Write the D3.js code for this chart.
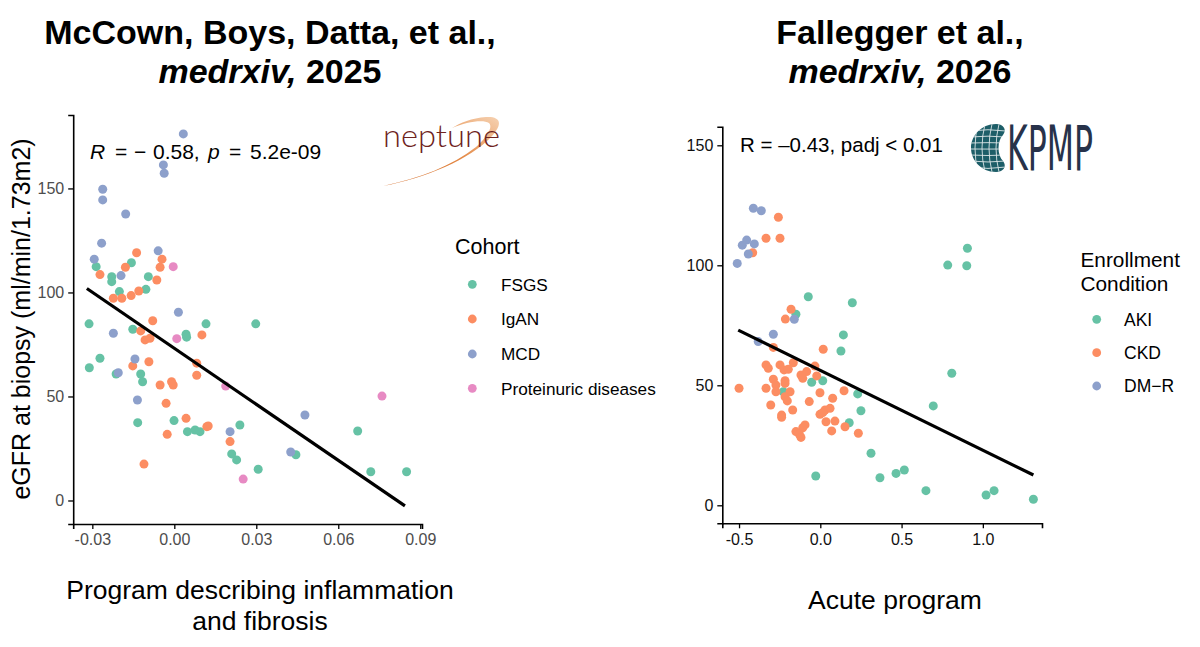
<!DOCTYPE html>
<html><head><meta charset="utf-8">
<script src="https://cdn.jsdelivr.net/npm/d3@7"></script>
<style>body{margin:0;background:#fff}svg{display:block;font-family:"Liberation Sans",Arial,sans-serif}</style>
</head><body><svg id="c" width="1200" height="647"></svg>
<script>
// ---------- Left panel data (NEPTUNE) ----------
const cohorts = ["FSGS","IgAN","MCD","Proteinuric diseases"];
const cohortColors = ["#66c2a5","#fc8d62","#8da0cb","#e78ac3"];
const fsgsX = [-0.0286,-0.0157,-0.0229,-0.0229,-0.0095,-0.0201,-0.0104,-0.0312,-0.0152,0.0043,0.0045,0.0116,0.0298,-0.0272,-0.0311,-0.0213,-0.0123,-0.0116,-0.0134,-0.0001,0.0048,0.0076,0.0094,0.024,0.021,0.0228,0.0307,0.0671,0.0445,0.0719,0.085];
const fsgsY = [112.4,114.3,107.6,105.2,107.6,100.4,101.5,84.9,82.3,79.9,78.5,84.9,84.9,68.4,63.8,60.8,60.8,57.1,37.4,38.4,33.1,33.9,33.1,36.3,22.4,19.5,15.0,33.4,22.0,13.8,13.8];
const iganX = [-0.0138,-0.0045,-0.0179,-0.0052,-0.0272,-0.0064,-0.013,-0.0158,-0.0223,-0.0192,-0.0123,-0.0079,-0.0107,-0.0089,0.0101,-0.0093,-0.0152,-0.0052,-0.001,-0.0004,0.0082,0.0082,-0.003,0.0043,-0.0026,0.0119,0.0124,0.0204,-0.0111];
const iganY = [119.1,116,112.1,112.1,108.6,106,100.7,98.5,97.2,97.2,81.5,86.4,77.2,78.0,79.6,66.7,64.7,55.5,57.1,55.5,66.0,60.2,46.7,39.5,31.8,35.5,35.8,28.3,17.5];
const mcdX = [0.0033,-0.004,-0.0037,-0.0262,-0.0262,-0.0178,-0.0266,-0.0293,-0.0059,-0.0195,0.0015,-0.0223,-0.0144,-0.0205,-0.0135,0.0204,0.0478,0.0426];
const mcdY = [176.2,161.3,157.3,149.6,144.5,137.7,123.7,116,120,108.1,90.5,80.4,68,61.4,48.3,33.1,41.1,23.3];
const protX = [-0.0004,0.0009,0.0188,0.0252,0.076];
const protY = [112.4,77.8,55.0,10.3,50.2];
const leftFitX = [-0.032, 0.0844];
const leftFitY = [101.9, -2.6];
const leftXTicks = [-0.03,0,0.03,0.06,0.09];
const leftXTickLabels = ["-0.03","0.00","0.03","0.06","0.09"];
const leftYTicks = [0,50,100,150];

// ---------- Right panel data (KPMP) ----------
const conditions = ["AKI","CKD","DM\u2212R"];
const conditionColors = ["#66c2a5","#fc8d62","#8da0cb"];
const akiX = [-0.074,0.197,-0.15,0.142,0.127,-0.228,-0.053,0.015,0.178,0.23,0.25,0.312,-0.028,0.367,0.905,0.784,0.901,0.809,0.695,0.466,0.517,0.65,1.02,1.069,1.311];
const akiY = [86.9,84.4,79.6,71.0,64.3,47.3,51.25,51.9,34.4,46.4,39.4,21.7,12.2,11.5,107.1,100.1,99.8,55.0,41.4,13.3,14.7,6.1,4.3,6.1,2.5];
const ckdX = [-0.258,-0.334,-0.248,-0.416,-0.18,-0.215,0.018,-0.289,-0.5,-0.334,-0.334,-0.32,-0.248,-0.223,-0.197,-0.166,-0.289,-0.217,-0.217,-0.273,-0.273,-0.186,-0.217,-0.203,-0.305,-0.238,-0.238,-0.17,-0.119,-0.108,-0.084,-0.033,-0.022,-0.002,-0.068,0.076,-0.002,0.029,0.06,0.015,0.035,0.09,0.07,-0.094,-0.108,-0.15,-0.129,-0.119,0.146,0.152,0.234];
const ckdY = [120.0,111.25,111.25,105.25,81.7,77.6,65.0,65.8,48.75,48.75,58.5,57.1,58.5,56.4,56.7,59.4,52.5,51.9,50.8,50.1,47.3,47.3,45.25,43.5,41.8,37.6,36.7,39.7,54.3,52.9,55.7,58.0,53.9,46.9,43.2,44.6,37.9,39.7,40.4,38.6,34.8,35.1,31.0,33.5,32.3,30.7,29.6,28.3,47.75,32.75,30.0];
const dmrX = [-0.412,-0.363,-0.453,-0.48,-0.406,-0.443,-0.511,-0.16,-0.289,-0.382];
const dmrY = [123.75,122.75,110.5,108.4,108.9,104.7,100.8,77.5,71.25,68.2];
const rightFitX = [-0.505, 1.311];
const rightFitY = [73.0, 12.6];
const rightXTicks = [-0.5,0,0.5,1.0];
const rightXTickLabels = ["-0.5","0.0","0.5","1.0"];
const rightYTicks = [0,50,100,150];

const svg = d3.select("#c");

function zip(xs, ys, g){ return xs.map((x,i)=>({x, y: ys[i], g})); }

function panel(cfg){
  const x = d3.scaleLinear().domain(cfg.xDomain).range(cfg.xRange);
  const y = d3.scaleLinear().domain(cfg.yDomain).range(cfg.yRange);
  const g = svg.append("g");
  const xa = g.append("g").attr("transform",`translate(0,${cfg.yRange[0]})`)
    .call(d3.axisBottom(x).tickValues(cfg.xTicks).tickFormat((d,i)=>cfg.xTickLabels[i]).tickSizeOuter(0).tickSize(5).tickPadding(5));
  const ya = g.append("g").attr("transform",`translate(${cfg.xRange[0]},0)`)
    .call(d3.axisLeft(y).tickValues(cfg.yTicks).tickSizeOuter(0).tickSize(5).tickPadding(4));
  [xa,ya].forEach(a=>{
    a.selectAll("path.domain").attr("stroke","#000").attr("stroke-width",1.6);
    a.selectAll(".tick line").attr("stroke","#000").attr("stroke-width",1.3);
    a.selectAll(".tick text").attr("fill",cfg.tickColor).style("font-size","16px").style("font-family","Liberation Sans, Arial, sans-serif");
  });
  g.selectAll("circle.pt").data(cfg.points).join("circle").attr("class","pt")
    .attr("cx",d=>x(d.x)).attr("cy",d=>y(d.y)).attr("r",4.5)
    .attr("fill",d=>cfg.colors[d.g]);
  const line = d3.line().x(d=>x(d[0])).y(d=>y(d[1]));
  g.append("path").attr("d",line(cfg.fitX.map((v,i)=>[v,cfg.fitY[i]])))
    .attr("stroke","#000").attr("stroke-width",3.2).attr("fill","none");
  return g;
}

const leftPts = [].concat(zip(fsgsX,fsgsY,0),zip(iganX,iganY,1),zip(mcdX,mcdY,2),zip(protX,protY,3));
panel({xDomain:[-0.037,0.09064], xRange:[73.2,422], yDomain:[-11.3,185.3], yRange:[524,115],
  xTicks:leftXTicks, xTickLabels:leftXTickLabels, yTicks:leftYTicks, tickColor:"#4d4d4d",
  points:leftPts, colors:cohortColors, fitX:leftFitX, fitY:leftFitY});

const rightPts = [].concat(zip(akiX,akiY,0),zip(ckdX,ckdY,1),zip(dmrX,dmrY,2));
panel({xDomain:[-0.603,1.364], xRange:[722.3,1042], yDomain:[-7.5,157.75], yRange:[523.3,126.7],
  xTicks:rightXTicks, xTickLabels:rightXTickLabels, yTicks:rightYTicks, tickColor:"#111",
  points:rightPts, colors:conditionColors, fitX:rightFitX, fitY:rightFitY});

// ---------- Titles ----------
function title(cx, line1, year){
  svg.append("text").attr("x",cx).attr("y",44).attr("text-anchor","middle")
    .style("font-size","34px").style("font-weight","bold").text(line1);
  const t = svg.append("text").attr("x",cx).attr("y",83).attr("text-anchor","middle")
    .style("font-size","34px").style("font-weight","bold");
  t.append("tspan").style("font-style","italic").text("medrxiv,");
  t.append("tspan").text(" " + year);
}
title(270, "McCown, Boys, Datta, et al.,", "2025");
title(900, "Fallegger et al.,", "2026");

// ---------- Annotations ----------
const a1 = svg.append("text").attr("y",159).style("font-size","21px");
a1.append("tspan").attr("x",90).style("font-style","italic").text("R");
a1.append("tspan").attr("x",115).text("=");
a1.append("tspan").attr("x",134).text("\u2212");
a1.append("tspan").attr("x",153).text("0.58,");
a1.append("tspan").attr("x",208).style("font-style","italic").text("p");
a1.append("tspan").attr("x",229).text("=");
a1.append("tspan").attr("x",250).text("5.2e-09");

svg.append("text").attr("x",740).attr("y",152).style("font-size","20.5px").text("R = \u20130.43, padj < 0.01");

// ---------- Axis labels ----------
svg.append("text").attr("transform","translate(30,319) rotate(-90)").attr("text-anchor","middle")
  .style("font-size","25px").text("eGFR at biopsy (ml/min/1.73m2)");
svg.append("text").attr("x",260).attr("y",599).attr("text-anchor","middle").style("font-size","26.5px").text("Program describing inflammation");
svg.append("text").attr("x",260).attr("y",630).attr("text-anchor","middle").style("font-size","26.5px").text("and fibrosis");
svg.append("text").attr("x",895).attr("y",609).attr("text-anchor","middle").style("font-size","26.5px").text("Acute program");

// ---------- Legends ----------
svg.append("text").attr("x",455).attr("y",254).style("font-size","21.5px").text("Cohort");
const lgY = [284.3,319,354,388.3];
cohorts.forEach((c,i)=>{
  svg.append("circle").attr("cx",472.3).attr("cy",lgY[i]).attr("r",4.4).attr("fill",cohortColors[i]);
  svg.append("text").attr("x",501).attr("y",lgY[i]+6.3).style("font-size","17.2px").text(c);
});
svg.append("text").attr("x",1080.5).attr("y",266.7).style("font-size","20.8px").text("Enrollment");
svg.append("text").attr("x",1080.5).attr("y",290.5).style("font-size","20.8px").text("Condition");
const lgY2 = [319.3,352.7,386];
conditions.forEach((c,i)=>{
  svg.append("circle").attr("cx",1096.7).attr("cy",lgY2[i]).attr("r",4.4).attr("fill",conditionColors[i]);
  svg.append("text").attr("x",1124).attr("y",lgY2[i]+6.3).style("font-size","17.5px").text(c);
});

// ---------- Neptune logo ----------
const defs = svg.append("defs");
const grad = defs.append("linearGradient").attr("id","sw").attr("x1","0").attr("x2","1").attr("y1","1").attr("y2","0");
grad.append("stop").attr("offset","0").attr("stop-color","#cf5f17");
grad.append("stop").attr("offset","0.55").attr("stop-color","#e48a47");
grad.append("stop").attr("offset","1").attr("stop-color","#f6d2b2");
svg.append("path").attr("fill","url(#sw)")
  .attr("d","M383,186 C425,178 470,160 492,136 C503,124 501,116 486,117 C472,118 460,123 452,128 C466,122 483,119 489,123 C494,128 484,140 476,147 C452,166 420,178 383,186 Z");
svg.append("text").attr("x",383).attr("y",147).attr("textLength",117).attr("lengthAdjust","spacingAndGlyphs")
  .style("font-family","Lato, 'Open Sans', sans-serif").style("font-weight","300").style("font-size","31px").attr("fill","#6e2320").text("neptune");

// ---------- KPMP logo ----------
const clip = defs.append("clipPath").attr("id","kid");
const kidneyD = "M996,124 C981,124 971,136 971,148 C971,160 981,172 996,172 C1004,172 1007,166 1003,161 C997,155 997,141 1003,135 C1007,130 1004,124 996,124 Z";
clip.append("path").attr("d",kidneyD);
svg.append("path").attr("d",kidneyD).attr("fill","#1e5e69");
const kg = svg.append("g").attr("clip-path","url(#kid)").attr("stroke","#fff").attr("stroke-width",0.9).attr("fill","none").attr("opacity",0.85);
[131,137,143,149,155,161,167].forEach(yy=>kg.append("path").attr("d",`M970,${yy} Q988,${yy+ (yy-148)*0.15} 1006,${yy}`));
[978,985,992,999].forEach(xx=>kg.append("path").attr("d",`M${xx},124 Q${xx-6},148 ${xx},172`));
svg.append("text").attr("x",1007).attr("y",170).attr("textLength",86).attr("lengthAdjust","spacingAndGlyphs")
  .style("font-family","'Liberation Sans Narrow','DejaVu Sans Condensed',sans-serif").style("font-size","62px").attr("fill","#27324a").text("KPMP");
</script></body></html>
